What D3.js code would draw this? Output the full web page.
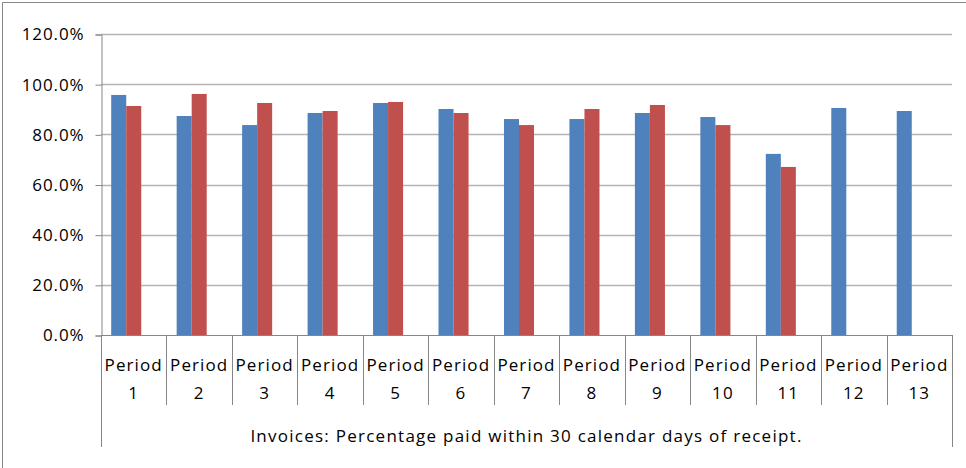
<!DOCTYPE html>
<html>
<head>
<meta charset="utf-8">
<script src="https://cdn.jsdelivr.net/npm/d3@7"></script>
<style>
  body { margin: 0; background: #fff; }
  svg text { font-family: "Open Sans", sans-serif; fill: #000; }
</style>
</head>
<body>
<script>
// chart data
var periods = ["Period 1", "Period 2", "Period 3", "Period 4", "Period 5", "Period 6", "Period 7",
    "Period 8", "Period 9", "Period 10", "Period 11", "Period 12", "Period 13"];
var seriesBlue = [95.7, 87.3, 83.7, 88.5, 92.5, 90.1, 86.1, 86.1, 88.5, 86.9, 72.2, 90.5, 89.3];
var seriesRed = [91.3, 96.1, 92.5, 89.3, 92.9, 88.5, 83.7, 90.1, 91.7, 83.7, 67.0, null, null];
var seriesEmpty = [null, null, null, null, null, null, null, null, null, null, null, null, null];
var yTicks = [0, 20, 40, 60, 80, 100, 120];
var groupTitle = "Invoices: Percentage paid within 30 calendar days of receipt.";

var W = 966, H = 468;
var plotL = 101, plotR = 952, plotT = 34, plotB = 335;

var svg = d3.select("body").append("svg")
    .attr("width", W).attr("height", H);

// outer chart frame (only top/left visible in crop)
svg.append("path")
    .attr("d", "M2.5," + H + "V2.5H" + W)
    .attr("fill", "none").attr("stroke", "#868686").attr("stroke-width", 1);

var x0 = d3.scaleBand().domain(periods).range([plotL, plotR]).paddingInner(0).paddingOuter(0);
var x1 = d3.scaleBand().domain(["blue", "red", "empty"])
    .range([10.2, x0.bandwidth() - 10.2]);
var y = d3.scaleLinear().domain([0, 120]).range([plotB, plotT]);

// gridlines
svg.append("g").selectAll("line").data(yTicks.slice(1)).join("line")
    .attr("x1", plotL).attr("x2", plotR)
    .attr("y1", d => Math.round(y(d)) + 0.5).attr("y2", d => Math.round(y(d)) + 0.5)
    .attr("stroke", "#b4b4b4").attr("stroke-width", 1.5);

// y axis
var yAxis = svg.append("g").attr("transform", "translate(" + (plotL + 0.5) + ",0.5)")
    .call(d3.axisLeft(y).tickValues(yTicks).tickSize(6).tickPadding(11)
        .tickFormat(d => d.toFixed(1) + "%"));
yAxis.select(".domain").attr("stroke", "#868686");
yAxis.selectAll(".tick line").attr("stroke", "#868686");
yAxis.selectAll("text").attr("font-size", "17px").attr("letter-spacing", "0.9px")
    .style("font-family", "'Open Sans', sans-serif").attr("fill", "#000");

// bars
var series = [
    { key: "blue", values: seriesBlue, color: "#4F81BD" },
    { key: "red", values: seriesRed, color: "#C0504D" },
    { key: "empty", values: seriesEmpty, color: "#9BBB59" }
];
series.forEach(function (s) {
    svg.append("g").selectAll("rect")
        .data(periods.map((p, i) => ({ p: p, v: s.values[i] })).filter(d => d.v != null))
        .join("rect")
        .attr("x", d => x0(d.p) + x1(s.key))
        .attr("width", x1.bandwidth())
        .attr("y", d => y(d.v))
        .attr("height", d => y(0) - y(d.v))
        .attr("fill", s.color);
});

// x axis line
svg.append("line")
    .attr("x1", plotL).attr("x2", plotR)
    .attr("y1", plotB + 0.5).attr("y2", plotB + 0.5)
    .attr("stroke", "#868686");

// category separators
var bounds = periods.map(p => x0(p)).concat([plotR]);
svg.append("g").selectAll("line").data(bounds).join("line")
    .attr("x1", d => Math.round(d) + 0.5).attr("x2", d => Math.round(d) + 0.5)
    .attr("y1", plotB)
    .attr("y2", (d, i) => (i === 0 || i === bounds.length - 1) ? 447 : 405)
    .attr("stroke", "#868686");

// category labels
var lab = svg.append("g").selectAll("text").data(periods).join("text")
    .attr("x", d => x0(d) + x0.bandwidth() / 2)
    .attr("text-anchor", "middle")
    .attr("font-size", "17px").attr("letter-spacing", "1.1px");
lab.append("tspan").attr("x", d => x0(d) + x0.bandwidth() / 2).attr("y", 371)
    .text(d => d.split(" ")[0]);
lab.append("tspan").attr("x", d => x0(d) + x0.bandwidth() / 2).attr("y", 399)
    .text(d => d.split(" ")[1]);

// group title
svg.append("text")
    .attr("x", (plotL + plotR) / 2).attr("y", 442)
    .attr("text-anchor", "middle")
    .attr("font-size", "17px").attr("letter-spacing", "1.25px")
    .text(groupTitle);
</script>
</body>
</html>
